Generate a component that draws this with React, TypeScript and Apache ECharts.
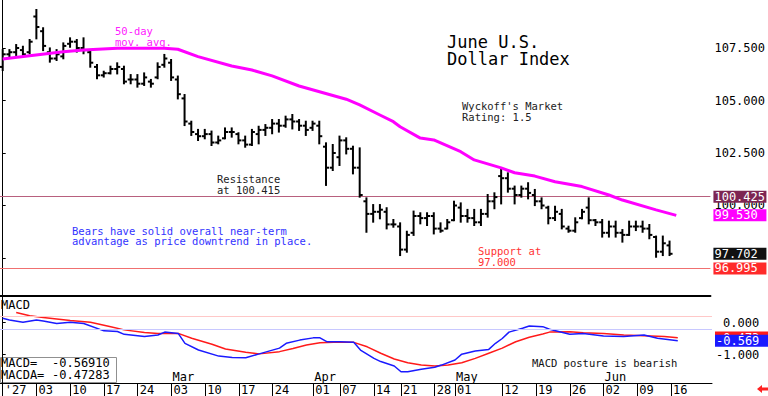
import React, { useEffect, useRef } from "react";
import * as echarts from "echarts";

// ---- Data ----
const highs = [107.40,107.40,107.64,107.56,107.88,109.31,108.44,107.48,107.40,107.72,107.96,107.88,107.96,107.40,106.69,106.37,106.61,106.77,106.61,106.21,106.21,106.29,105.98,106.77,107.17,106.93,106.14,105.26,103.99,103.60,103.60,103.52,103.28,103.67,103.67,103.44,103.28,103.60,103.75,103.83,104.07,104.07,104.23,104.31,104.07,103.99,103.99,103.99,102.96,102.88,103.28,103.20,102.80,102.72,100.34,100.02,100.02,99.87,99.31,99.15,98.75,99.71,99.63,99.63,99.63,99.15,99.31,100.18,100.10,99.79,99.79,99.79,100.50,100.58,101.77,101.53,100.90,100.90,101.06,100.74,100.34,99.94,99.94,99.79,98.99,99.39,99.79,100.34,99.31,99.31,99.23,99.23,98.83,99.23,99.23,99.23,99.07,98.52,98.52,98.28];
const lows = [106.45,107.09,107.17,107.09,107.25,107.96,107.40,106.85,106.93,107.01,107.56,107.33,107.25,106.61,106.06,106.14,106.29,106.29,105.82,105.82,105.66,105.74,105.66,106.06,106.61,105.98,105.10,103.83,103.36,103.12,103.20,102.88,102.96,103.20,103.28,102.96,102.80,102.88,102.96,103.36,103.44,103.52,103.75,103.67,103.60,103.36,103.60,102.96,100.98,101.69,101.93,102.48,101.53,100.42,98.75,99.23,99.39,98.91,98.99,97.64,97.80,98.60,99.15,99.07,98.67,98.75,98.91,99.30,99.23,99.23,99.07,99.07,99.47,99.87,100.10,100.66,100.10,100.42,100.34,100.02,99.87,99.15,99.31,98.91,98.75,98.75,99.39,99.15,99.07,98.52,98.52,98.52,98.28,98.60,98.83,98.75,98.44,97.56,97.64,97.64];
const opens = [106.6,107.2,107.3,107.4,107.3,109.0,108.3,107.3,107.0,107.1,107.7,107.8,107.5,107.3,106.6,106.2,106.3,106.5,106.5,106.0,106.0,105.8,105.9,106.1,106.7,106.8,106.0,105.1,103.9,103.4,103.3,103.4,103.0,103.2,103.5,103.4,103.1,102.9,103.4,103.6,103.7,103.9,103.8,104.1,104.0,103.8,103.7,103.8,102.8,101.8,102.3,103.1,102.7,101.8,100.2,99.6,99.7,99.7,99.1,99.0,97.9,98.7,99.5,99.4,99.5,98.9,98.9,99.3,99.9,99.5,99.4,99.2,99.6,100.2,101.4,101.3,100.8,100.5,100.8,100.5,100.2,99.9,99.4,99.6,98.9,98.8,99.4,99.9,99.3,99.2,98.7,99.0,98.7,98.6,99.0,99.0,98.9,98.5,97.8,98.1];
const closes = [107.2,107.3,107.5,107.2,107.8,108.5,107.6,107.0,107.2,107.6,107.8,107.5,107.4,106.8,106.2,106.3,106.5,106.6,105.9,106.0,105.8,106.1,105.8,106.6,107.0,106.1,105.3,104.0,103.5,103.3,103.4,103.0,103.1,103.5,103.5,103.1,102.9,103.5,103.6,103.7,103.9,103.8,104.1,104.0,103.8,103.6,103.9,103.3,101.8,102.5,103.1,102.7,101.8,100.5,99.6,99.7,99.8,99.1,99.1,97.9,98.6,99.5,99.4,99.5,98.9,98.8,99.2,100.0,99.5,99.4,99.2,99.6,100.2,100.4,101.3,100.8,100.5,100.8,100.6,100.2,100.0,99.4,99.7,99.0,98.8,99.2,99.7,99.3,99.2,98.7,99.0,98.7,98.6,99.0,99.0,98.9,98.6,97.8,98.2,97.70];

const ma50 = [[0,106.98],[4,107.13],[9,107.32],[12,107.40],[17,107.49],[24,107.49],[26,107.44],[29,107.09],[34,106.64],[37,106.45],[40,106.17],[44,105.69],[51,105.06],[53,104.79],[56,104.31],[58,103.99],[59,103.75],[62,103.21],[64,103.12],[68,102.56],[70,102.17],[74,101.79],[76,101.56],[79,101.40],[82,101.13],[86,100.90],[90,100.50],[92,100.26],[97,99.79],[100,99.53]];

const macdLine = [[0,0.13],[1,0.08],[3,0.01],[5,0.08],[6,0.05],[8,-0.03],[10,0.01],[12,-0.03],[15,-0.26],[17,-0.28],[18,-0.37],[21,-0.44],[23,-0.39],[24,-0.30],[26,-0.34],[27,-0.65],[29,-0.86],[32,-1.05],[34,-1.09],[36,-1.10],[38,-0.98],[41,-0.80],[42,-0.65],[44,-0.55],[46,-0.48],[47,-0.48],[48,-0.60],[50,-0.60],[52,-0.62],[53,-0.86],[55,-1.12],[56,-1.22],[58,-1.36],[59,-1.54],[60,-1.54],[62,-1.46],[64,-1.40],[65,-1.33],[67,-1.17],[68,-0.99],[70,-0.89],[72,-0.84],[73,-0.65],[74,-0.50],[75,-0.30],[77,-0.18],[78,-0.11],[80,-0.13],[81,-0.21],[84,-0.37],[86,-0.34],[89,-0.42],[92,-0.44],[95,-0.39],[97,-0.49],[100,-0.569]];
const macdAvg = [[2,0.31],[4,0.21],[6,0.16],[8,0.11],[10,0.06],[13,0.01],[16,-0.13],[18,-0.23],[21,-0.31],[23,-0.34],[26,-0.34],[28,-0.49],[31,-0.68],[33,-0.83],[36,-0.93],[38,-0.98],[41,-0.91],[43,-0.81],[45,-0.70],[47,-0.63],[49,-0.62],[52,-0.62],[54,-0.76],[56,-0.96],[58,-1.14],[60,-1.26],[62,-1.33],[64,-1.36],[66,-1.33],[68,-1.26],[70,-1.12],[72,-0.96],[74,-0.80],[76,-0.60],[78,-0.46],[80,-0.36],[81,-0.30],[84,-0.29],[86,-0.32],[89,-0.34],[92,-0.39],[95,-0.41],[98,-0.44],[100,-0.473]];

const dayTickIdx = [0,5,10,15,20,25,30,35,40,46,50,55,59,64,67,74,79,84,89,94,99];
const dayTickLabels = ["'27","03","10","17","24","03","10","17","24","01","07","14","21","28","01","12","19","26","02","09","16"];
const monthIdx = [25,46,67,89];
const monthLabels = ["Mar","Apr","May","Jun"];
const priceTicks = [97.5,100,102.5,105,107.5];
const priceTickLabels = [100,102.5,105,107.5];
const macdTicks = [0,-1];

const resistance = 100.415;
const resistanceLabel = "100.425";
const support = 96.995;
const lastMa = 99.53;
const lastClose = 97.702;
const lastMacd = -0.5691;
const lastMacdAvg = -0.47283;

const MONO = "'DejaVu Sans Mono', monospace";
const HIDDEN_LINE = { color: "rgba(0,0,0,0)", width: 0 };

export default function App() {
  const ref = useRef<HTMLDivElement>(null);
  useEffect(() => {
    if (!ref.current) return;
    const chart = echarts.init(ref.current, null, { renderer: "svg" });
    const ohlc = highs.map((h, i) => [i, opens[i], h, lows[i], closes[i]]);
    const boxLabel = (text: string, bg: string) => ({
      show: true, position: "end", distance: 3, formatter: text,
      color: "#fff", backgroundColor: bg, fontFamily: MONO, fontSize: 12,
      lineHeight: 11, padding: [1, 1, 0, 1], width: 51, align: "left",
    });
    const option: any = {
      animation: false,
      grid: [
        { left: 0, right: 56, top: 0, height: 296 },
        { left: 0, right: 56, top: 297, height: 86 },
      ],
      xAxis: [
        { type: "value", gridIndex: 0, min: -0.4, max: 105.07, position: "bottom",
          axisLine: { show: true, onZero: false, lineStyle: { color: "#000", width: 2 } },
          axisTick: { show: false }, axisLabel: { show: false }, splitLine: { show: false } },
        { type: "value", gridIndex: 1, min: -0.4, max: 105.07, position: "bottom",
          axisLine: { show: true, onZero: false, lineStyle: { color: "#000", width: 1 } },
          axisTick: { show: true, length: 13, customValues: dayTickIdx, lineStyle: { color: "#000" } },
          axisLabel: { show: true, customValues: dayTickIdx, margin: 1, align: "left", padding: [0, 0, 0, 2],
            fontFamily: MONO, fontSize: 12, color: "#000",
            formatter: (v: number) => dayTickLabels[dayTickIdx.indexOf(Math.round(v))] ?? "" },
          splitLine: { show: false } },
        { type: "value", gridIndex: 1, min: -0.4, max: 105.07, position: "bottom",
          axisLine: { show: false }, axisTick: { show: false },
          axisLabel: { show: true, inside: true, customValues: monthIdx, margin: 0, align: "left", padding: [0, 0, 0, 1],
            fontFamily: MONO, fontSize: 12, color: "#000",
            formatter: (v: number) => monthLabels[monthIdx.indexOf(Math.round(v))] ?? "" },
          splitLine: { show: false } },
      ],
      yAxis: [
        { type: "value", gridIndex: 0, position: "right", min: 95.69, max: 109.786,
          axisLine: { show: true, lineStyle: { color: "#000" } },
          axisTick: { show: true, length: 3, customValues: priceTicks, lineStyle: { color: "#000" } },
          axisLabel: { show: true, customValues: priceTickLabels, margin: 4, fontFamily: MONO, fontSize: 12, color: "#000",
            formatter: (v: number) => v.toFixed(3) },
          splitLine: { show: false } },
        { type: "value", gridIndex: 1, position: "right", min: -1.89, max: 0.797,
          axisLine: { show: true, lineStyle: { color: "#000" } },
          axisTick: { show: true, length: 3, customValues: macdTicks, lineStyle: { color: "#000" } },
          axisLabel: { show: true, customValues: macdTicks, margin: 4, fontFamily: MONO, fontSize: 12, color: "#000",
            formatter: (v: number) => (v >= 0 ? "{s|" + v.toFixed(3) + "}" : v.toFixed(3)),
            rich: { s: { padding: [0, 0, 0, 7], fontFamily: MONO, fontSize: 12, color: "#000" } } },
          splitLine: { show: false } },
      ],
      series: [
        {
          type: "custom", xAxisIndex: 0, yAxisIndex: 0, data: ohlc,
          encode: { x: 0, y: [1, 2, 3, 4] },
          renderItem: (params: any, api: any) => {
            const x = api.value(0);
            const pH = api.coord([x, api.value(2)]);
            const pL = api.coord([x, api.value(3)]);
            const pO = api.coord([x, api.value(1)]);
            const pC = api.coord([x, api.value(4)]);
            const st = { stroke: "#000", lineWidth: 2 };
            return {
              type: "group",
              children: [
                { type: "line", shape: { x1: pH[0], y1: pH[1] - 1, x2: pL[0], y2: pL[1] + 1 }, style: st },
                { type: "line", shape: { x1: pO[0] - 3, y1: pO[1], x2: pO[0], y2: pO[1] }, style: st },
                { type: "line", shape: { x1: pC[0], y1: pC[1], x2: pC[0] + 3, y2: pC[1] }, style: st },
              ],
            };
          },
          markLine: {
            silent: true, symbol: "none", animation: false, z: 1,
            data: [
              { yAxis: resistance, lineStyle: { color: "#b8607e", width: 1, type: "solid" }, label: boxLabel(resistanceLabel, "#7d2452") },
              { yAxis: support, lineStyle: { color: "#f07070", width: 1, type: "solid" }, label: boxLabel(support.toFixed(3), "#ff2a2a") },
              { yAxis: lastClose, lineStyle: HIDDEN_LINE, label: boxLabel(lastClose.toFixed(3), "#111111") },
            ],
          },
          z: 3,
        },
        {
          type: "line", xAxisIndex: 0, yAxisIndex: 0, data: ma50, showSymbol: false, symbol: "none",
          lineStyle: { color: "#ff00ff", width: 3 }, z: 4,
          markLine: {
            silent: true, symbol: "none", animation: false,
            data: [{ yAxis: lastMa, lineStyle: HIDDEN_LINE, label: boxLabel(lastMa.toFixed(3), "#ff00ff") }],
          },
        },
        {
          type: "line", xAxisIndex: 1, yAxisIndex: 1, data: macdAvg, showSymbol: false, symbol: "none",
          lineStyle: { color: "#ff1a1a", width: 1.5 }, z: 3,
          markLine: {
            silent: true, symbol: "none", animation: false,
            data: [
              { yAxis: 0.2, lineStyle: { color: "#ffc8c8", width: 1, type: "solid" }, label: { show: false } },
              { yAxis: -0.2, lineStyle: { color: "#c8c8ff", width: 1, type: "solid" }, label: { show: false } },
              { yAxis: lastMacdAvg, lineStyle: HIDDEN_LINE, label: boxLabel(lastMacdAvg.toFixed(3), "#ff1a1a") },
            ],
          },
        },
        {
          type: "line", xAxisIndex: 1, yAxisIndex: 1, data: macdLine, showSymbol: false, symbol: "none",
          lineStyle: { color: "#1a1aff", width: 1.5 }, z: 4,
          markLine: {
            silent: true, symbol: "none", animation: false,
            data: [{ yAxis: lastMacd, lineStyle: HIDDEN_LINE, label: boxLabel(lastMacd.toFixed(3), "#1a1aff") }],
          },
        },
      ],
      graphic: [
        { type: "text", left: 115, top: 25, style: { text: "50-day\nmov. avg.", fill: "#ff20ff", font: "10.5px " + MONO, lineHeight: 11 } },
        { type: "text", left: 447, top: 33, style: { text: "June U.S.\nDollar Index", fill: "#000", font: "17px " + MONO, lineHeight: 17 } },
        { type: "text", left: 462, top: 100, style: { text: "Wyckoff's Market\nRating: 1.5", fill: "#222", font: "10.5px " + MONO, lineHeight: 11 } },
        { type: "text", left: 217, top: 173, style: { text: "Resistance\nat 100.415", fill: "#222", font: "10.5px " + MONO, lineHeight: 11 } },
        { type: "text", left: 72, top: 225, style: { text: "Bears have solid overall near-term\nadvantage as price downtrend in place.", fill: "#3333ff", font: "10.5px " + MONO, lineHeight: 10.5 } },
        { type: "text", left: 478, top: 245, style: { text: "Support at\n97.000", fill: "#ff3333", font: "10.5px " + MONO, lineHeight: 11 } },
        { type: "text", left: 532, top: 357, style: { text: "MACD posture is bearish", fill: "#111", font: "10.5px " + MONO } },
        { type: "text", left: 1, top: 299, style: { text: "MACD", fill: "#000", font: "12px " + MONO } },
        { type: "rect", shape: { x: 0.5, y: 357.5, width: 116, height: 25 }, style: { fill: "#fff", stroke: "#909090", lineWidth: 1 } },
        { type: "text", left: 1, top: 357, style: { text: "MACD=\nMACDA=", fill: "#000", font: "12px " + MONO, lineHeight: 12 } },
        { type: "text", left: 52, top: 357, style: { text: lastMacd.toFixed(5) + "\n" + lastMacdAvg.toFixed(5), fill: "#000", font: "12px " + MONO, lineHeight: 12 } },
        { type: "polygon", shape: { points: [[757, 389], [762, 385], [762, 387.5], [768, 387.5], [768, 390.5], [762, 390.5], [762, 393]] }, style: { fill: "#ff2020" } },
      ],
    };
    chart.setOption(option);
    return () => chart.dispose();
  }, []);
  return <div ref={ref} style={{ position: "fixed", left: 0, top: 0, width: 768, height: 396, background: "#fff" }} />;
}
